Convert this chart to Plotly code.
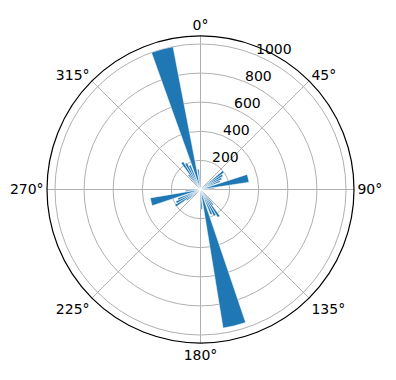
import math
import plotly.graph_objects as go

# bar centres (compass degrees, clockwise from north), radii and widths (degrees)
angles = [321, 326, 331, 336, 344.7, 353.5,
          52, 57, 62, 67, 76.8, 85,
          141, 146, 151, 156, 166, 176.5,
          232, 237, 242, 247, 256, 265]
radii = [130, 225, 205, 182, 1000, 140,
         200, 180, 163, 145, 337, 95,
         135, 225, 205, 185, 965, 135,
         120, 205, 188, 168, 350, 105]
widths = [4.6, 4.6, 4.6, 4.6, 8.8, 4.6,
          4.6, 4.6, 4.6, 4.6, 9.5, 4.6,
          4.6, 4.6, 4.6, 4.6, 9.5, 4.6,
          4.6, 4.6, 4.6, 4.6, 9, 4.6]

r_max = 1055
r_ticks = [200, 400, 600, 800, 1000]
r_label_angle = 22.5
theta_ticks = [0, 45, 90, 135, 180, 225, 270, 315]
theta_labels = [f"{t}°" for t in theta_ticks]

fig = go.Figure(go.Barpolar(
    theta=angles, r=radii, width=widths,
    marker=dict(color="#1f77b4", line=dict(color="white", width=0.5)),
))

# radial tick labels placed like matplotlib (left/bottom anchored at gridline)
a = math.radians(r_label_angle)
for rv in r_ticks:
    fig.add_annotation(
        x=0.5 + 0.5 * rv / r_max * math.sin(a),
        y=0.5 + 0.5 * rv / r_max * math.cos(a),
        xref="paper", yref="paper", text=str(rv), showarrow=False,
        xanchor="left", yanchor="bottom", xshift=-2, yshift=-4,
        font=dict(size=14, family="DejaVu Sans", color="black"),
    )

fig.update_layout(
    width=396, height=380,
    margin=dict(l=47, r=42, t=36, b=37),
    paper_bgcolor="white",
    showlegend=False,
    font=dict(family="DejaVu Sans", size=14, color="black"),
    polar=dict(
        domain=dict(x=[0, 1], y=[0, 1]),
        bgcolor="white",
        angularaxis=dict(
            rotation=90, direction="clockwise",
            tickmode="array", tickvals=theta_ticks, ticktext=theta_labels,
            showline=True, linecolor="black", linewidth=1.2,
            showgrid=True, gridcolor="#b0b0b0", gridwidth=1,
            ticks="", tickfont=dict(size=14),
        ),
        radialaxis=dict(
            range=[0, r_max], tickmode="array", tickvals=r_ticks,
            showline=False, showgrid=True, gridcolor="#b0b0b0", gridwidth=1,
            showticklabels=False, ticks="",
        ),
    ),
)

fig.write_html("out.html")
